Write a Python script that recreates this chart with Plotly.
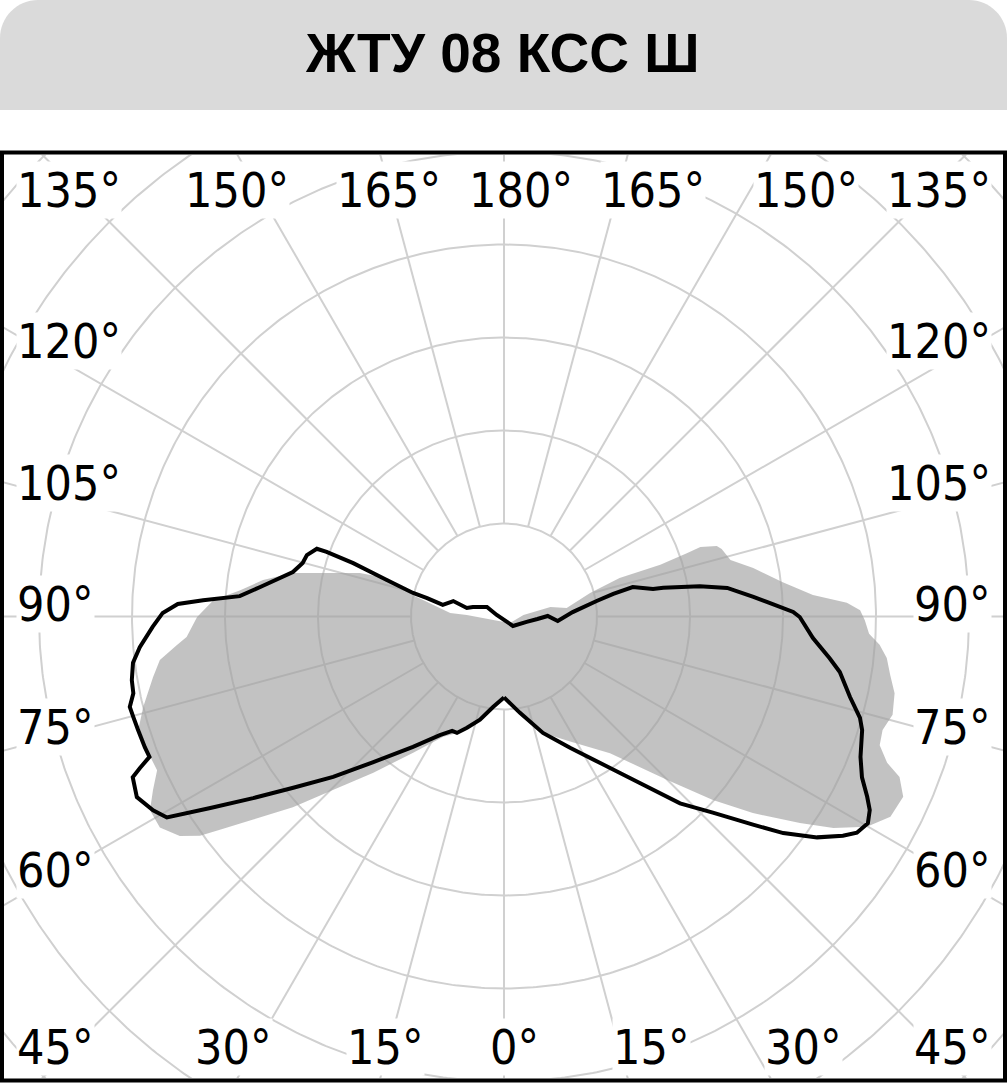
import numpy as np
import plotly.graph_objects as go

# ---------------- data ----------------
TITLE = "ЖТУ 08 КСС Ш"

# black curve: angle from nadir (deg, counter-clockwise toward the right side), intensity
BLACK_ANGLE = [0, 9.4, 18.5, 26.7, 33.2, 39.2, 43.3, 46.8, 50.1, 52.2, 54.8, 57.1, 58.5, 60.4,
               62.1, 63.6, 65.8, 68.5, 72.4, 74.1, 76.9, 80.6, 82.7, 86.0, 89.9, 90.9, 93.2,
               94.5, 97.3, 98.8, 100.2, 100.5, 102.9, 101.7, 99.5, 93.7, 85.2, 90.7, 85.7,
               76.6, 43.5, 257.9, 240.8, 253.0, 257.1, 253.1, 259.3, 256.5, 255.5, 252.7,
               250.5, 250.0, 250.1, 252.7, 255.1, 258.1, 263.1, 265.6, 266.9, 267.8, 269.4,
               271.7, 274.8, 277.1, 279.7, 281.7, 283.6, 285.2, 287.2, 290.0, 291.6, 292.6,
               293.4, 296.2, 298.9, 300.8, 303.1, 305.9, 309.1, 313.2, 318.0, 325.1, 331.6,
               335.6, 338.0, 341.6, 346.9, 353.1, 360]
BLACK_R = [87, 105, 132, 158, 188, 231, 276, 308, 349, 380, 412, 434, 445, 450,
           445, 436, 422, 412, 404, 398, 382, 366, 353, 333, 318, 311, 283,
           269, 242, 213, 174, 163, 142, 120, 101, 74, 58, 47, 36,
           25, 14, 8, 21, 35, 41, 57, 67, 85, 101, 132,
           172, 203, 214, 222, 224, 232, 264, 285, 324, 351, 367,
           378, 393, 402, 406, 407, 414, 413, 412, 411, 410, 424,
           435, 440, 431, 422, 377, 333, 292, 252, 211, 171, 145,
           135, 135, 126, 114, 98, 87]

# gray (filled) curve
GRAY_ANGLE = [0, 9.4, 18.5, 27.9, 37.8, 44.9, 48.7, 51.7, 55.1, 57.3, 59.9, 62.6, 65.7, 67.9,
              69.1, 71.1, 73.3, 75.8, 78.9, 81.4, 83.8, 85.7, 87.3, 89.4, 91.0, 92.3, 94.0,
              97.0, 101.0, 104.0, 107.2, 108.3, 109.5, 109.1, 108.3, 108.4, 105.3, 97.7,
              101.7, 94.5, 42.7, 287.7, 267.7, 266.3, 256.7, 251.8, 253.2, 256.7, 258.4,
              261.4, 264.3, 266.8, 270.1, 273.7, 275.0, 277.2, 279.8, 284.1, 286.8, 290.5,
              293.9, 296.3, 298.7, 301.5, 304.1, 305.8, 306.9, 309.0, 312.1, 315.4, 320.1,
              326.3, 333.2, 338.0, 341.6, 346.9, 353.1, 360]
GRAY_R = [89, 105, 132, 152, 186, 248, 299, 341, 388, 421, 451, 468, 471, 459,
          441, 427, 425, 431, 428, 420, 414, 405, 393, 388, 383, 369, 333,
          302, 273, 251, 245, 241, 224, 208, 177, 131, 96, 68,
          51, 21, 9.5, 12, 40, 58, 101, 132, 162, 203, 232,
          262, 285, 313, 330, 342, 353, 373, 383, 400, 410, 410,
          408, 421, 434, 434, 421, 403, 382, 347, 306, 262, 219,
          176, 145, 135, 126, 114, 98, 89]

TOP_LABELS = ["135°", "150°", "165°", "180°", "165°", "150°", "135°"]
SIDE_LABELS = ["120°", "105°", "90°", "75°", "60°"]
BOTTOM_LABELS = ["45°", "30°", "15°", "0°", "15°", "30°", "45°"]

GRID_RINGS = [100, 200, 300, 400, 500, 600, 700]
SPOKE_ANGLES = list(range(0, 360, 15))

# ---------------- geometry / style ----------------
W, H = 1007, 1083
CX, CY = 504, 616.5          # pixel centre of the diagram
PXU = 0.93                   # pixels per intensity unit
R_MAX = 500                  # radial range of the polar subplot
GRID_COLOR = "#d0d0d0"
LABEL_FONT = "DejaVu Sans Condensed, Liberation Sans Narrow, Liberation Sans, sans-serif"


def fx(x):
    return x / W


def fy(y):
    return 1 - y / H


fig = go.Figure()

# grid (cartesian layer, clipped to the frame)
t = np.linspace(0, 2 * np.pi, 721)
gx, gy = [], []
for r in GRID_RINGS:
    gx += list(r * np.sin(t)) + [None]
    gy += list(r * np.cos(t)) + [None]
for a in SPOKE_ANGLES:
    rad = np.deg2rad(a)
    gx += [100 * np.sin(rad), 1000 * np.sin(rad), None]
    gy += [-100 * np.cos(rad), -1000 * np.cos(rad), None]
fig.add_trace(go.Scatter(x=gx, y=gy, mode="lines", line=dict(color=GRID_COLOR, width=2),
                         hoverinfo="skip", showlegend=False, xaxis="x", yaxis="y"))

# photometric curves (polar layer)
fig.add_trace(go.Scatterpolar(theta=GRAY_ANGLE, r=GRAY_R, mode="lines", fill="toself",
                              fillcolor="rgba(160,160,160,0.64)", line=dict(width=0),
                              hoverinfo="skip", showlegend=False))
fig.add_trace(go.Scatterpolar(theta=BLACK_ANGLE, r=BLACK_R, mode="lines",
                              line=dict(color="black", width=4),
                              hoverinfo="skip", showlegend=False))

R_PX = R_MAX * PXU
fig.update_layout(
    width=W, height=H,
    margin=dict(l=0, r=0, t=0, b=0),
    paper_bgcolor="white", plot_bgcolor="rgba(0,0,0,0)",
    showlegend=False,
    xaxis=dict(domain=[fx(4), fx(1003)], range=[(4 - CX) / PXU, (1003 - CX) / PXU],
               visible=False, fixedrange=True),
    yaxis=dict(domain=[fy(1078), fy(155)], range=[(CY - 1078) / PXU, (CY - 155) / PXU],
               visible=False, fixedrange=True),
    polar=dict(
        domain=dict(x=[fx(CX - R_PX), fx(CX + R_PX)], y=[fy(CY + R_PX), fy(CY - R_PX)]),
        bgcolor="rgba(0,0,0,0)",
        angularaxis=dict(rotation=270, direction="counterclockwise", showgrid=False,
                         showline=False, showticklabels=False, ticks=""),
        radialaxis=dict(range=[0, R_MAX], visible=False),
    ),
)

# title box with rounded top corners
def P(x, y):
    return f"{fx(x):.6f},{fy(y):.6f}"

rc = 38
k = rc * 0.4477
path = (f"M {P(0, 110)} L {P(0, rc)} C {P(0, k)} {P(k, 0)} {P(rc, 0)} "
        f"L {P(W - rc, 0)} C {P(W - k, 0)} {P(W, k)} {P(W, rc)} L {P(W, 110)} Z")
fig.add_shape(type="path", path=path, xref="paper", yref="paper",
              fillcolor="#dadada", line=dict(width=0), layer="below")

# frame
fig.add_shape(type="rect", xref="paper", yref="paper", x0=fx(2), x1=fx(1005), y0=fy(1080.5),
              y1=fy(152.5), line=dict(color="black", width=4), layer="above")

fig.add_annotation(text=f"<b>{TITLE}</b>", x=fx(502), y=fy(53), xref="paper", yref="paper",
                   showarrow=False, xanchor="center", yanchor="middle",
                   font=dict(family="Liberation Sans, Arial, sans-serif", size=55, color="black"))

def label(text, x, y, anchor):
    fig.add_annotation(text=text, x=fx(x), y=fy(y), xref="paper", yref="paper",
                       showarrow=False, xanchor=anchor, yanchor="middle",
                       bgcolor="white", borderpad=0,
                       font=dict(family=LABEL_FONT, size=48, color="black"))

top_x = [16, 237, 389, 521, 653, 806, 992]
top_anchor = ["left", "center", "center", "center", "center", "center", "right"]
for txt, x, an in zip(TOP_LABELS, top_x, top_anchor):
    label(txt, x, 190, an)

side_y = [341, 483, 604, 727, 870]
for txt, y in zip(SIDE_LABELS, side_y):
    label(txt, 16, y, "left")
    label(txt, 992, y, "right")

bot_x = [16, 233, 385, 514, 651, 803, 992]
bot_anchor = ["left", "center", "center", "center", "center", "center", "right"]
for txt, x, an in zip(BOTTOM_LABELS, bot_x, bot_anchor):
    label(txt, x, 1047, an)

fig.write_html("out.html", config={"displayModeBar": False, "staticPlot": True},
               post_script="document.body.style.margin='0';document.body.style.overflow='hidden';")
